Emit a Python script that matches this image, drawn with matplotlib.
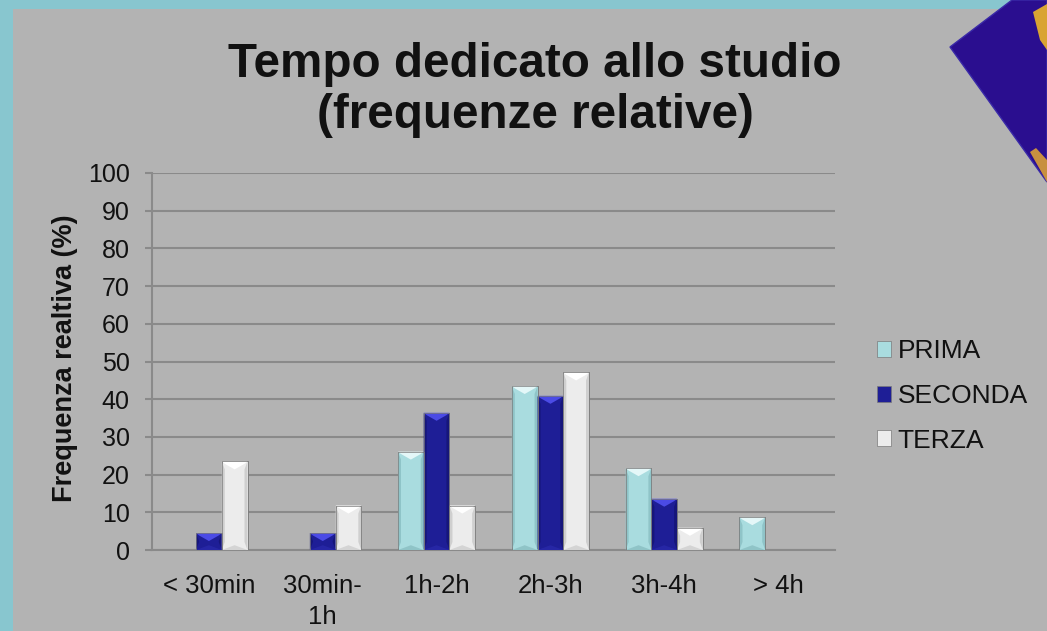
import matplotlib
matplotlib.use("Agg")
import matplotlib.pyplot as plt
import numpy as np
from matplotlib.patches import Polygon, Rectangle

categories = ["< 30min", "30min-\n1h", "1h-2h", "2h-3h", "3h-4h", "> 4h"]
prima = [0, 0, 26.1, 43.5, 21.7, 8.7]
seconda = [4.5, 4.5, 36.4, 40.9, 13.6, 0]
terza = [23.5, 11.8, 11.8, 47.1, 5.9, 0]
series_names = ["PRIMA", "SECONDA", "TERZA"]
yticks = list(range(0, 101, 10))

plt.rcParams['font.family'] = ['Liberation Sans', 'DejaVu Sans']

W, H = 1047, 631
fig = plt.figure(figsize=(W / 100, H / 100), dpi=100)
fig.patch.set_facecolor("#88c6cf")
# slide gray panel
fig.patches.append(Rectangle((13 / W, 0), 1, 1 - 9 / H, transform=fig.transFigure,
                             facecolor="#b3b3b3", edgecolor="none", zorder=-5))
# decorative corner image (approx.)
pts = [(1012, 0), (1047, 0), (1047, 182), (950, 47)]
fig.patches.append(Polygon([(x / W, 1 - y / H) for x, y in pts], closed=True,
                           transform=fig.transFigure, facecolor="#2a0e8f",
                           edgecolor="#3a2aa8", lw=1, zorder=-4))
pts2 = [(1033, 12), (1047, 4), (1047, 50), (1040, 40)]
fig.patches.append(Polygon([(x / W, 1 - y / H) for x, y in pts2], closed=True,
                           transform=fig.transFigure, facecolor="#d9a433",
                           edgecolor="none", zorder=-3))
pts3 = [(1030, 152), (1036, 148), (1047, 160), (1047, 182)]
fig.patches.append(Polygon([(x / W, 1 - y / H) for x, y in pts3], closed=True,
                           transform=fig.transFigure, facecolor="#c89040",
                           edgecolor="none", zorder=-3))

ax = fig.add_axes([152 / W, 1 - 550 / H, (835 - 152) / W, (550 - 173) / H])
ax.set_facecolor("none")

x = np.arange(len(categories))
bw = 0.226
colors = ["#a9dcdf", "#1e1e96", "#ececec"]
tops = ["#e4f7f8", "#4b4be6", "#ffffff"]
sides = ["#8fc4c8", "#16167a", "#cfcfcf"]
bottoms = ["#7fb4b8", "#2c2cb0", "#c4c4c4"]

all_series = [prima, seconda, terza]
ax.set_xlim(-0.5, len(categories) - 0.5)
ax.set_ylim(0, 100)

bev_px = 8.0
units_per_px = 100 / (550 - 173)
bev = bev_px * units_per_px
side_w = 3.0 / 113.8

for i, vals in enumerate(all_series):
    bars = ax.bar(x + (i - 1) * bw, vals, width=bw, color=colors[i],
                  edgecolor="#7a7a7a", linewidth=0.5, zorder=3, label=series_names[i])
    for b in bars:
        h = b.get_height()
        if h <= 0:
            continue
        x0 = b.get_x()
        w = b.get_width()
        bh = min(bev, h / 2)
        ax.add_patch(Polygon([(x0, 0), (x0 + side_w, bh), (x0 + side_w, h - bh), (x0, h)],
                             closed=True, facecolor=sides[i], edgecolor="none", zorder=4))
        ax.add_patch(Polygon([(x0 + w, 0), (x0 + w - side_w, bh), (x0 + w - side_w, h - bh), (x0 + w, h)],
                             closed=True, facecolor=sides[i], edgecolor="none", zorder=4))
        ax.add_patch(Polygon([(x0, h), (x0 + w, h), (x0 + w - side_w, h - bh * 0.3),
                              (x0 + w / 2, h - bh), (x0 + side_w, h - bh * 0.3)],
                             closed=True, facecolor=tops[i], edgecolor="none", zorder=4))
        ax.add_patch(Polygon([(x0, 0), (x0 + w, 0), (x0 + w / 2, bh * 0.6)],
                             closed=True, facecolor=bottoms[i], edgecolor="none", zorder=4, alpha=0.6))
        ax.add_patch(Rectangle((x0, 0), w, h, facecolor="none", edgecolor="#7a7a7a",
                               linewidth=0.5, zorder=5))

ax.set_yticks(yticks)
ax.set_yticklabels([str(v) for v in yticks], fontsize=18, color="#111111")
ax.set_xticks(x)
ax.set_xticklabels(categories, fontsize=18.5, color="#111111", linespacing=1.37)
ax.tick_params(axis="x", length=0, pad=17)
ax.tick_params(axis="y", length=5, width=1.5, color="#8a8a8a", pad=11, direction="out")
ax.yaxis.grid(True, color="#8a8a8a", linewidth=1.5, zorder=1)
ax.set_axisbelow(True)
for s in ["top", "right"]:
    ax.spines[s].set_visible(False)
ax.spines["left"].set_color("#8a8a8a")
ax.spines["left"].set_linewidth(1.5)
ax.spines["bottom"].set_color("#8a8a8a")
ax.spines["bottom"].set_linewidth(1.5)

fig.text(65 / W, 1 - 358 / H, "Frequenza realtiva (%)", rotation=90, fontsize=19.5,
         fontweight="bold", ha="center", va="center", color="#111111")

fig.text(535 / W, 1 - 90 / H, "Tempo dedicato allo studio\n(frequenze relative)",
         fontsize=34.3, fontweight="bold", ha="center", va="center", color="#111111",
         linespacing=1.17)

handles, labels = ax.get_legend_handles_labels()
leg = fig.legend(handles, labels, loc="center left",
                 bbox_to_anchor=(853 / W, 1 - 396 / H), frameon=False, fontsize=19,
                 handlelength=0.55, handleheight=0.55, handletextpad=0.25, labelspacing=0.78)
for t in leg.get_texts():
    t.set_color("#111111")

fig.savefig("out.png", dpi=100, facecolor=fig.get_facecolor())
